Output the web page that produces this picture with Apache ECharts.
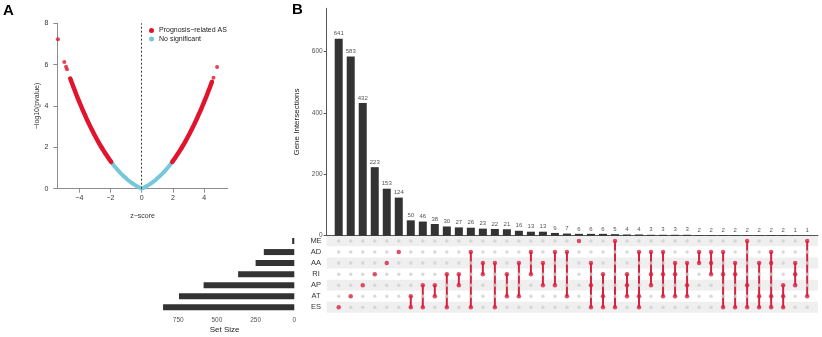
<!DOCTYPE html>
<html>
<head>
<meta charset="UTF-8" />
<script src="https://cdn.jsdelivr.net/npm/echarts@6/dist/echarts.min.js"></script>
<style>body{margin:0;background:#fff}</style>
</head>
<body>
<div id="main" style="width:822px;height:337px"></div>
<script>
// ---- panel A: z-score vs -log10(pvalue)
const blueZ = [-1.95, -1.8, -1.6, -1.4, -1.2, -1.0, -0.8, -0.6, -0.4, -0.2, 0, 0.2, 0.4, 0.6, 0.8, 1.0, 1.2, 1.4, 1.6, 1.8, 1.95];
const blueY = [1.29, 1.14, 0.96, 0.79, 0.64, 0.5, 0.37, 0.26, 0.16, 0.08, 0.01, 0.08, 0.16, 0.26, 0.37, 0.5, 0.64, 0.79, 0.96, 1.14, 1.29];
const redLeftZ = [-1.96, -2.2, -2.4, -2.6, -2.8, -3.0, -3.2, -3.4, -3.6, -3.8, -4.0, -4.2, -4.4, -4.58];
const redLeftY = [1.3, 1.56, 1.79, 2.03, 2.29, 2.57, 2.86, 3.17, 3.5, 3.84, 4.2, 4.57, 4.97, 5.33];
const redRightZ = [1.96, 2.2, 2.4, 2.6, 2.8, 3.0, 3.2, 3.4, 3.6, 3.8, 4.0, 4.2, 4.4, 4.5];
const redRightY = [1.3, 1.56, 1.79, 2.03, 2.29, 2.57, 2.86, 3.17, 3.5, 3.84, 4.2, 4.57, 4.97, 5.17];
const extraZ = [-5.37, -4.96, -4.85, -4.79, 4.6, 4.83];
const extraY = [7.23, 6.13, 5.9, 5.78, 5.37, 5.89];

// ---- panel B: upset plot
const setNames = ['ME', 'AD', 'AA', 'RI', 'AP', 'AT', 'ES'];
const setSizes = [14, 197, 250, 363, 586, 745, 848];
const intersectionSizes = [641, 583, 432, 223, 153, 124, 50, 46, 38, 30, 27, 26, 23, 22, 21, 16, 13, 13, 9, 7,
  6, 6, 6, 5, 4, 4, 3, 3, 3, 3, 2, 2, 2, 2, 2, 2, 2, 2, 1, 1];
const intersectionSets = [
  ['ES'], ['AT'], ['AP'], ['RI'], ['AA'], ['AD'],
  ['AT', 'ES'], ['AP', 'ES'], ['AP', 'AT'], ['RI', 'ES'], ['RI', 'AP'], ['AD', 'ES'], ['AA', 'RI'],
  ['AA', 'ES'], ['RI', 'AT'], ['AA', 'AT'], ['AD', 'RI'], ['AA', 'AP'], ['AD', 'AP'], ['AD', 'AT'],
  ['ME'], ['AA', 'AP', 'ES'], ['RI', 'AT', 'ES'], ['ME', 'ES'], ['RI', 'AP', 'AT'], ['AD', 'AT', 'ES'],
  ['AD', 'RI', 'AP'], ['AD', 'RI', 'AT'], ['AA', 'RI', 'AT'], ['AA', 'AP', 'AT'],
  ['AD', 'AA'], ['AD', 'AA', 'RI'], ['AD', 'RI', 'ES'], ['AA', 'RI', 'ES'], ['ME', 'AP', 'ES'],
  ['AA', 'AT', 'ES'], ['AD', 'AA', 'AT', 'ES'], ['AP', 'AT', 'ES'], ['AA', 'RI', 'AP'], ['ME', 'AT']
];

const RED_A = '#E2132D';
const BLUE_A = '#76C7D9';
const RED_B = '#D6223F';
const FONT = 'Liberation Sans';
const sigName = 'Prognosis\u2212related AS';
const nsName = 'No significant';

const pairs = (xs, ys) => xs.map((x, i) => [x, ys[i]]);

const greyDots = [], redDots = [], links = [];
intersectionSets.forEach((sets, i) => {
  const rows = sets.map(s => setNames.indexOf(s));
  setNames.forEach((s, r) => {
    if (rows.includes(r)) redDots.push([i + 1, r]);
    else greyDots.push([i + 1, r]);
  });
  if (rows.length > 1) links.push([i + 1, Math.min(...rows), Math.max(...rows)]);
});

const minus = v => String(v).replace('-', '\u2212');

const chart = echarts.init(document.getElementById('main'));
chart.setOption({
  animation: false,
  textStyle: { fontFamily: FONT },
  graphic: [
    { type: 'text', left: 3, top: 3, style: { text: 'A', font: 'bold 15px ' + FONT, fill: '#000' } },
    { type: 'text', left: 292, top: 2, style: { text: 'B', font: 'bold 15px ' + FONT, fill: '#000' } }
  ],
  legend: {
    orient: 'vertical', left: 149, top: 27, padding: 0, itemGap: 1.5,
    itemWidth: 5, itemHeight: 5, icon: 'circle',
    textStyle: { fontSize: 7, color: '#222' },
    data: [sigName, nsName]
  },
  grid: [
    { left: 57.3, right: 594.3, top: 23.3, bottom: 148.3 },
    { left: 326.7, right: 4, top: 8.3, bottom: 101.3 },
    { left: 326.7, right: 4, top: 235.5, bottom: 24.2 },
    { left: 155, right: 527.7, top: 235.5, bottom: 24.2 }
  ],
  xAxis: [
    {
      gridIndex: 0, type: 'value', min: -5.41, max: 5.51,
      axisLine: { onZero: false, lineStyle: { color: '#8c8c8c' } },
      axisTick: { customValues: [-4, -2, 0, 2, 4], length: 4, lineStyle: { color: '#8c8c8c' } },
      axisLabel: { customValues: [-4, -2, 0, 2, 4], formatter: minus, fontSize: 7, color: '#333', margin: 6 },
      splitLine: { show: false },
      name: 'z\u2212score', nameLocation: 'middle', nameGap: 24, nameTextStyle: { fontSize: 7, color: '#333' }
    },
    {
      gridIndex: 1, type: 'value', min: 0, max: 40.9,
      axisLine: { onZero: false, lineStyle: { color: '#555' } },
      axisTick: { show: false }, axisLabel: { show: false }, splitLine: { show: false }
    },
    {
      gridIndex: 2, type: 'value', min: 0, max: 40.9, show: false
    },
    {
      gridIndex: 3, type: 'value', min: 0, max: 900, inverse: true,
      axisLine: { onZero: false, lineStyle: { color: '#555' } },
      axisTick: { customValues: [0, 250, 500, 750], length: 3, lineStyle: { color: '#555' } },
      axisLabel: { customValues: [0, 250, 500, 750], fontSize: 6.5, color: '#555', margin: 4 },
      splitLine: { show: false },
      name: 'Set Size', nameLocation: 'middle', nameGap: 13, nameTextStyle: { fontSize: 8, color: '#222' }
    }
  ],
  yAxis: [
    {
      gridIndex: 0, type: 'value', min: 0, max: 8, interval: 2,
      axisLine: { show: true, onZero: false, lineStyle: { color: '#8c8c8c' } },
      axisTick: { show: true, length: 4, lineStyle: { color: '#8c8c8c' } },
      axisLabel: { fontSize: 7, color: '#333', margin: 9 },
      splitLine: { show: false },
      name: '\u2212log10(pvalue)', nameLocation: 'middle', nameGap: 17, nameRotate: 90,
      nameTextStyle: { fontSize: 7, color: '#333' }
    },
    {
      gridIndex: 1, type: 'value', min: 0, max: 740,
      axisLine: { show: true, onZero: false, lineStyle: { color: '#555' } },
      axisTick: { show: true, customValues: [0, 200, 400, 600], length: 3, lineStyle: { color: '#555' } },
      axisLabel: { customValues: [0, 200, 400, 600], fontSize: 6.5, color: '#555', margin: 4 },
      splitLine: { show: false },
      name: 'Gene Intersections', nameLocation: 'middle', nameGap: 21, nameRotate: 90,
      nameTextStyle: { fontSize: 8, color: '#222' }
    },
    {
      gridIndex: 2, type: 'category', data: setNames, inverse: true,
      axisLine: { show: false }, axisTick: { show: false },
      axisLabel: { fontSize: 7.5, color: '#333', margin: 10.7, align: 'center' },
      splitArea: { show: true, areaStyle: { color: ['#EFEFEF', '#FFFFFF'] } }
    },
    {
      gridIndex: 3, type: 'category', data: setNames, inverse: true, show: false
    }
  ],
  series: [
    {
      name: nsName, type: 'line', xAxisIndex: 0, yAxisIndex: 0, data: pairs(blueZ, blueY),
      smooth: true, showSymbol: false, color: BLUE_A,
      lineStyle: { width: 4, cap: 'round', color: BLUE_A },
      markLine: {
        silent: true, symbol: 'none', label: { show: false },
        lineStyle: { type: [2, 2], color: '#333', width: 1 },
        data: [{ xAxis: 0 }]
      }
    },
    {
      name: sigName, type: 'line', xAxisIndex: 0, yAxisIndex: 0, data: pairs(redLeftZ, redLeftY),
      smooth: true, showSymbol: false, color: RED_A,
      lineStyle: { width: 4.5, cap: 'round', color: RED_A }
    },
    {
      name: sigName, type: 'line', xAxisIndex: 0, yAxisIndex: 0, data: pairs(redRightZ, redRightY),
      smooth: true, showSymbol: false, color: RED_A,
      lineStyle: { width: 4.5, cap: 'round', color: RED_A }
    },
    {
      name: sigName, type: 'scatter', xAxisIndex: 0, yAxisIndex: 0, data: pairs(extraZ, extraY),
      symbolSize: 4, itemStyle: { color: RED_A }
    },
    {
      type: 'bar', xAxisIndex: 1, yAxisIndex: 1, barWidth: 8,
      data: intersectionSizes.map((v, i) => [i + 1, v]),
      itemStyle: { color: '#333' },
      label: { show: true, position: 'top', distance: 2, fontSize: 6, color: '#555' }
    },
    {
      type: 'scatter', xAxisIndex: 2, yAxisIndex: 2, data: greyDots,
      symbolSize: 3.5, itemStyle: { color: '#CFCFCF' }
    },
    {
      type: 'custom', xAxisIndex: 2, yAxisIndex: 2, data: links,
      encode: { x: 0, y: [1, 2] },
      renderItem: (params, api) => {
        const a = api.coord([api.value(0), api.value(1)]);
        const b = api.coord([api.value(0), api.value(2)]);
        return {
          type: 'line',
          shape: { x1: a[0], y1: a[1], x2: b[0], y2: b[1] },
          style: { stroke: RED_B, lineWidth: 2 }
        };
      }
    },
    {
      type: 'scatter', xAxisIndex: 2, yAxisIndex: 2, data: redDots,
      symbolSize: 4.5, itemStyle: { color: RED_B }
    },
    {
      type: 'bar', xAxisIndex: 3, yAxisIndex: 3, barWidth: 6,
      data: setSizes, itemStyle: { color: '#333' }
    }
  ]
});
</script>
</body>
</html>
